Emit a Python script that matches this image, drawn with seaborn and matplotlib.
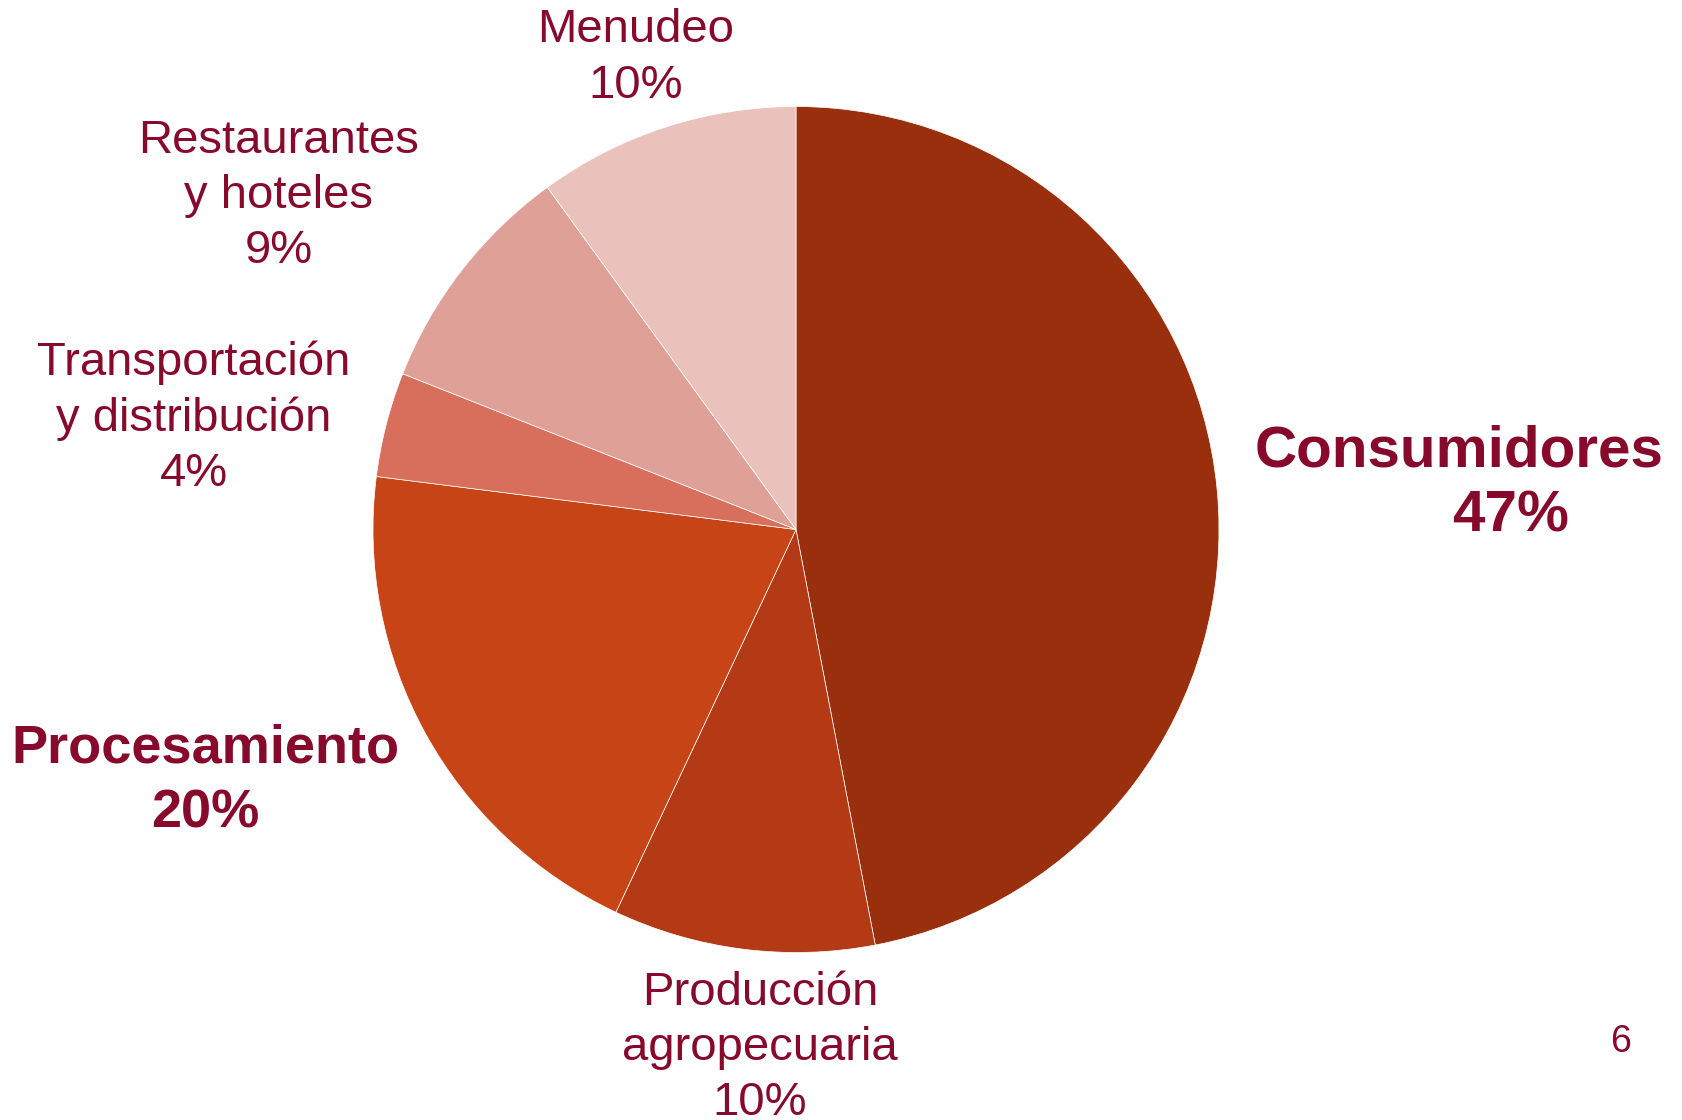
import matplotlib
matplotlib.use("Agg")
import matplotlib.pyplot as plt
import seaborn as sns

# Data
categories = ["Consumidores", "Producción\nagropecuaria", "Procesamiento",
              "Transportación\ny distribución", "Restaurantes\ny hoteles", "Menudeo"]
values = [47, 10, 20, 4, 9, 10]
colors = ["#9A2F0D", "#B33A14", "#C64415", "#D76F5C", "#DFA097", "#EAC1BB"]
bold = [True, False, True, False, False, False]

sns.set_theme(style="white")
plt.rcParams['font.family'] = ['Liberation Sans', 'DejaVu Sans']

W, H = 1683, 1120
fig = plt.figure(figsize=(W / 100, H / 100), dpi=100)
ax = fig.add_axes([0, 0, 1, 1])

ax.pie(values, colors=colors, startangle=90, counterclock=False,
       center=(796, H - 529.5), radius=423, frame=True,
       wedgeprops=dict(edgecolor="white", linewidth=0.5))
ax.set_xlim(0, W)
ax.set_ylim(0, H)
ax.set_aspect("equal")
ax.axis("off")

txt_color = "#870A2C"
# label anchor positions (pixel coords from top) for each category
label_pos = [(1459, 483), (760, 1048), (205, 781), (194, 418), (279, 196), (636, 58)]

for cat, val, b, (x, y) in zip(categories, values, bold, label_pos):
    s = f"{cat}\n{val}%"
    if b:
        if cat == "Consumidores":
            ax.text(1459, H - 451, cat, ha="center", va="center", fontsize=42,
                    fontweight="bold", color=txt_color)
            ax.text(1511, H - 516, f"{val}%", ha="center", va="center", fontsize=42,
                    fontweight="bold", color=txt_color)
        else:
            ax.text(x, H - y, s, ha="center", va="center", fontsize=39,
                    fontweight="bold", color=txt_color, linespacing=1.38)
    else:
        ax.text(x, H - y, s, ha="center", va="center", fontsize=34,
                color=txt_color, linespacing=1.33)

ax.text(1621, H - 1042, "6", ha="center", va="center", fontsize=27, color=txt_color)

fig.savefig("out.png", dpi=100)
